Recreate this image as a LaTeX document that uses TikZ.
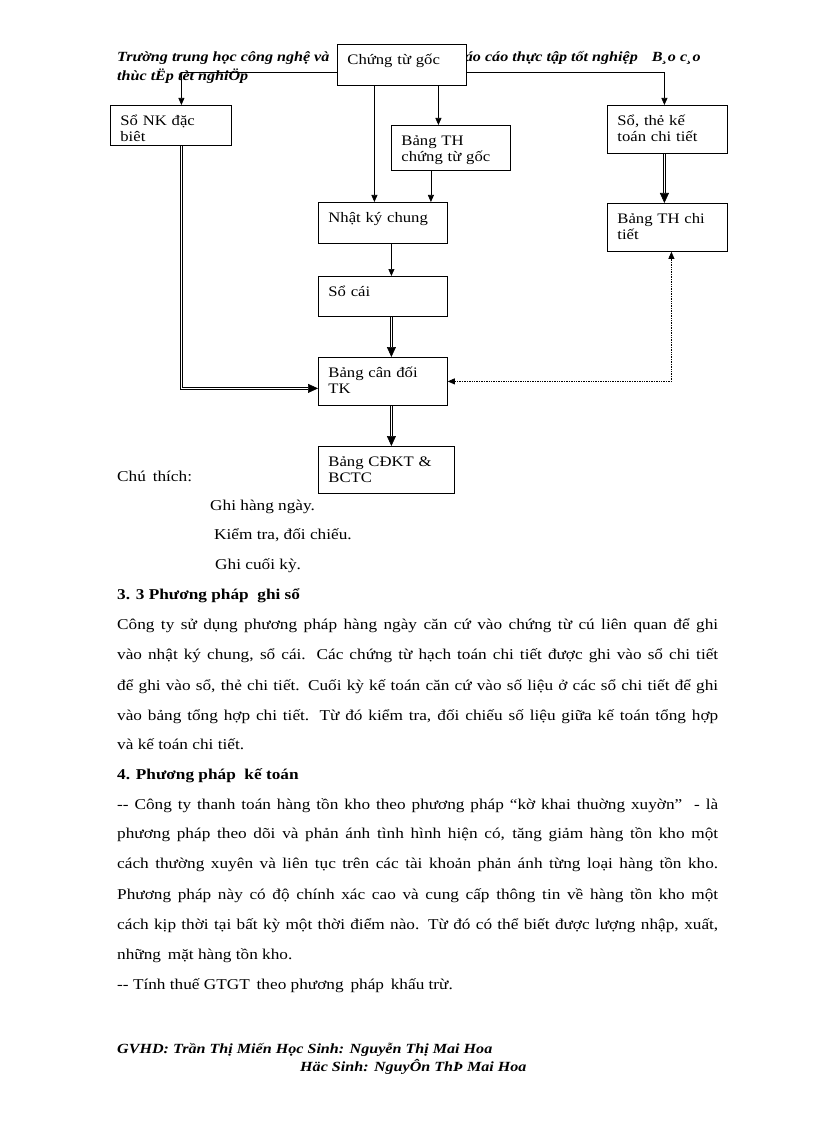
\documentclass[tikz,border=0pt]{standalone}
\usepackage{fontspec}
\setmainfont{Liberation Serif}[FakeStretch=1.15]
\usetikzlibrary{arrows.meta, calc}

\newcommand\fullline[1]{\makebox[601pt][s]{#1}}

\begin{document}
\begin{tikzpicture}[x=1pt, y=-1pt,
  box/.style={draw, fill=white, anchor=north west, align=left,
              inner xsep=10pt, inner ysep=2pt, text height=18pt,
              font=\fontsize{14.5}{16}\selectfont, line width=0.8pt},
  arr/.style={-{Triangle[length=7pt,width=6pt]}, line width=0.7pt},
  dbl/.style={double, double distance=1.6pt, line width=0.6pt,
              -{Triangle[length=10pt,width=9pt]}},
  chk/.style={densely dotted, line width=0.7pt,
              {Triangle[length=7pt,width=6pt]}-{Triangle[length=7pt,width=6pt]}},
  body/.style={anchor=base west, inner sep=0pt, font=\fontsize{15}{18}\selectfont},
  head/.style={anchor=base west, inner sep=0pt,
               font=\fontsize{14}{16}\selectfont\bfseries\itshape}
]
\useasboundingbox (0,0) rectangle (816,1123);

% Page header (partly hidden by the top box)
\node[head] (hd1) at (117,62)  {Trường trung học công nghệ và};
\node[head] (hd2) at (454,62)  {Báo cáo thực tập tốt nghiệp\quad B¸o c¸o};
\node[head] (hd3) at (117,81)  {thùc tËp tèt nghiÖp};

% Boxes
\node[box, text width=109pt, text depth=19pt] (ctg)    at (337,44)  {Chứng từ gốc};
\node[box, text width=101pt, text depth=18pt] (sonk)   at (110,105) {Sổ NK đặc\\biêt};
\node[box, text width=99pt,  text depth=23pt] (bthctg) at (391,125) {Bảng TH\\chứng từ gốc};
\node[box, text width=109pt, text depth=19pt] (nkc)    at (318,202) {Nhật ký chung};
\node[box, text width=109pt, text depth=18pt] (socai)  at (318,276) {Sổ cái};
\node[box, text width=109pt, text depth=26pt] (bcd)    at (318,357) {Bảng cân đối\\TK};
\node[box, text width=116pt, text depth=25pt] (bcdkt)  at (318,446) {Bảng CĐKT \&\\BCTC};
\node[box, text width=100pt, text depth=26pt] (sttk)   at (607,105) {Sổ, thẻ kế\\toán chi tiết};
\node[box, text width=100pt, text depth=26pt] (bthct)  at (607,203) {Bảng TH chi\\tiết};

% Connectors
\draw[arr] ([yshift=-7.5pt]ctg.west) -| ([xshift=10.5pt]sonk.north);
\draw[arr] ([yshift=-7.5pt]ctg.east) -| ([xshift=-3pt]sttk.north);
\draw[arr] ([xshift=-12.5pt]bthctg.north |- ctg.south) -- ([xshift=-12.5pt]bthctg.north);
\draw[arr] ([xshift=-8.5pt]nkc.north |- ctg.south) -- ([xshift=-8.5pt]nkc.north);
\draw[arr] ([xshift=48pt]nkc.north |- bthctg.south) -- ([xshift=48pt]nkc.north);
\draw[arr] ([xshift=8.5pt]nkc.south) -- ([xshift=8.5pt]socai.north);
\draw[dbl] ([xshift=8.5pt]socai.south) -- ([xshift=8.5pt]bcd.north);
\draw[dbl] ([xshift=8.5pt]bcd.south) -- ([xshift=8.5pt]bcd.south |- bcdkt.north);
\draw[dbl] ([xshift=10.5pt]sonk.south) |- ([yshift=-7pt]bcd.west);
\draw[dbl] ([xshift=-3pt]sttk.south) -- ([xshift=-3pt]bthct.north);
\draw[chk] ([xshift=4pt]bthct.south) |- (bcd.east);

% Legend
\node[body] (leg)  at (117,481) {Chú\, thích:};
\node[body] (leg1) at (210,510) {Ghi hàng ngày.};
\node[body] (leg2) at (214,539) {Kiểm tra, đối chiếu.};
\node[body] (leg3) at (215,569) {Ghi cuối kỳ.};

% Section 3.3
\node[body, font=\fontsize{15}{18}\selectfont\bfseries] (s33) at (117,599) {3. 3 Phương pháp\ \ ghi sổ};
\node[body] (p1) at (117,629) {\fullline{Công ty sử dụng phương pháp\ hàng ngày căn cứ vào chứng từ cú liên quan để ghi}};
\node[body] (p2) at (117,659) {\fullline{vào nhật ký chung, sổ cái. Các chứng từ hạch toán chi tiết được ghi vào sổ chi tiết}};
\node[body] (p3) at (117,690) {\fullline{để ghi vào sổ, thẻ chi tiết. Cuối kỳ kế toán căn cứ vào số liệu ở các sổ chi tiết để ghi}};
\node[body] (p4) at (117,720) {\fullline{vào bảng tổng hợp chi tiết. Từ đó kiểm tra, đối chiếu số liệu giữa kế toán tổng hợp}};
\node[body] (p5) at (117,749) {và kế toán chi tiết.};

% Section 4
\node[body, font=\fontsize{15}{18}\selectfont\bfseries] (s4) at (117,779) {4. Phương pháp\ \ kế toán};
\node[body] (q1) at (117,809) {\fullline{-{}- Công ty thanh toán hàng tồn kho theo phương pháp “kờ khai thuờng xuyờn”\ \ - là}};
\node[body] (q2) at (117,838) {\fullline{phương pháp theo dõi và phản ánh tình hình hiện có, tăng giảm hàng tồn kho một}};
\node[body] (q3) at (117,868) {\fullline{cách thường xuyên và liên tục trên các tài khoản phản ánh từng loại hàng tồn kho.}};
\node[body] (q4) at (117,899) {\fullline{Phương pháp này có độ chính xác cao và cung cấp thông tin về hàng tồn kho một}};
\node[body] (q5) at (117,929) {\fullline{cách kịp thời tại bất kỳ một thời điểm nào. Từ đó có thể biết được lượng nhập, xuất,}};
\node[body] (q6) at (117,959) {những\, mặt hàng tồn kho.};
\node[body] (q7) at (117,989) {-{}- Tính thuế GTGT\, theo phương\, pháp\, khấu trừ.};

% Page footer
\node[head] (ft1) at (117,1053) {GVHD: Trần Thị Miến Học Sinh: Nguyễn Thị Mai Hoa};
\node[head] (ft2) at (300,1071) {Häc Sinh: NguyÔn ThÞ Mai Hoa};
\end{tikzpicture}
\end{document}
